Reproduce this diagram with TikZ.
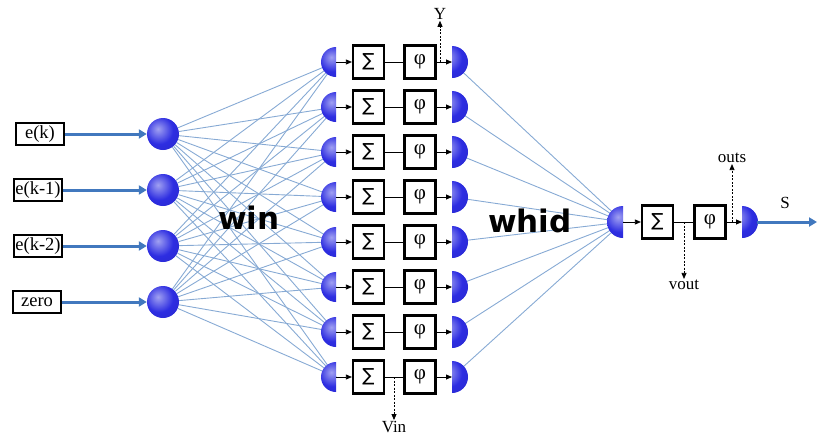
\documentclass[tikz,border=0pt]{standalone}
\usepackage{fontspec}
\setmainfont{Liberation Serif}
\newfontfamily\dejavu{DejaVu Sans}
\usetikzlibrary{arrows.meta}
\definecolor{neuron}{RGB}{45,45,225}
\definecolor{wline}{RGB}{135,170,212}
\definecolor{inarrow}{RGB}{65,120,190}
\pgfdeclareradialshading{neuronball}{\pgfpoint{-8bp}{8bp}}{%
  color(0bp)=(neuron!45!white);
  color(22bp)=(neuron);
  color(40bp)=(neuron!92!black);
  color(55bp)=(neuron!80!black);
  color(100bp)=(neuron!80!black)}
\begin{document}
\begin{tikzpicture}[x=1pt,y=-1pt,
  inbox/.style={draw, line width=2.2pt, inner sep=0.5pt, minimum width=48pt, minimum height=22pt, font=\fontsize{18.5}{18.5}\selectfont},
  opbox/.style={draw, line width=2.2pt, minimum width=31pt, minimum height=33pt, inner sep=0pt},
  neur/.style={circle, minimum size=32pt, inner sep=0pt, shading=neuronball},
  wconn/.style={draw=wline, line width=0.9pt},
  inarr/.style={draw=inarrow, line width=3pt, -{Triangle[length=8pt,width=9pt]}},
  blk/.style={line width=0.8pt, -{Triangle[length=6pt,width=5pt]}},
  dsh/.style={line width=0.8pt, dash pattern=on 2pt off 1.5pt, -{Triangle[length=6pt,width=5pt]}},
  lbl/.style={font=\fontsize{17}{17}\selectfont, inner sep=1pt},
  sgm/.style={font=\dejavu\fontsize{18}{18}\selectfont},
  phi/.style={font=\fontsize{21}{21}\selectfont},
  bigl/.style={font=\dejavu\bfseries\fontsize{31}{31}\selectfont, anchor=base}
]
\useasboundingbox (0,0) rectangle (817,437);

% input layer
\node[inbox] (x1) at (40,134) {e(k)};
\node[inbox] (x2) at (38,190) {e(k-1)};
\node[inbox] (x3) at (38,246) {e(k-2)};
\node[inbox] (x4) at (37,302) {zero};
\foreach \i/\yy in {1/134,2/190,3/246,4/302}{
  \node[neur] (in\i) at (163,\yy) {};
  \draw[inarr] (x\i) -- (in\i);
}

% hidden coordinates
\foreach \i in {1,...,8}{
  \pgfmathsetmacro\yy{62+45*(\i-1)}
  \coordinate (hl\i) at (336,\yy);
  \coordinate (hr\i) at (452,\yy);
}
\coordinate (ol) at (623,222);
\coordinate (or) at (742,222);
\coordinate (orr) at (757,222);
\coordinate (send) at (817,222);

% weight connections
\foreach \i in {1,...,4}{
  \foreach \j in {1,...,8}{
    \draw[wconn] (in\i) -- (hl\j);
  }
}
\foreach \j in {1,...,8}{
  \draw[wconn] (hr\j) -- (ol);
}

% hidden layer
\foreach \i in {1,...,8}{
  \pgfmathsetmacro\yy{62+45*(\i-1)}
  \begin{scope}
    \clip (318,\yy-17) rectangle (336,\yy+17);
    \shade[shading=neuronball] (336,\yy) circle[radius=15];
  \end{scope}
  \begin{scope}
    \clip (452,\yy-17) rectangle (470,\yy+17);
    \shade[shading=neuronball] (452,\yy) circle[radius=16];
  \end{scope}
  \node[opbox, sgm] (sg\i) at (368.5,\yy) {∑};
  \node[opbox, phi] (ph\i) at (420,\yy) {φ};
  \draw[blk] (hl\i) -- (sg\i);
  \draw[line width=0.8pt] (sg\i) -- (ph\i);
  \draw[blk] (ph\i) -- (hr\i);
}

% output neuron
\begin{scope}
  \clip (605,205) rectangle (623,239);
  \shade[shading=neuronball] (623,222) circle[radius=16];
\end{scope}
\begin{scope}
  \clip (742,205) rectangle (760,239);
  \shade[shading=neuronball] (742,222) circle[radius=16];
\end{scope}
\node[opbox, sgm] (osg) at (657.5,222) {∑};
\node[opbox, phi] (oph) at (710,222) {φ};
\draw[blk] (ol) -- (osg);
\draw[line width=0.8pt] (osg) -- (oph);
\draw[blk] (oph) -- (or);
\draw[inarr] (orr) -- (send);
\node[lbl] (slab) at (785,203) {S};

% taps
\coordinate (ytap) at (440,62);
\node[lbl] (ylab) at (440,14) {Y};
\draw[dsh] (ytap) -- (ylab);
\coordinate (vintap) at (394,377);
\node[lbl] (vinlab) at (394,427) {Vin};
\draw[dsh] (vintap) -- (vinlab);
\coordinate (outstap) at (732,222);
\node[lbl] (outslab) at (732,158) {outs};
\draw[dsh] (outstap) -- (outslab);
\coordinate (vouttap) at (684,222);
\node[lbl] (voutlab) at (684,285) {vout};
\draw[dsh] (vouttap) -- (voutlab);

% weight labels
\node[bigl] (win) at (249,229) {win};
\node[bigl] (whid) at (530,232) {whid};
\end{tikzpicture}
\end{document}
